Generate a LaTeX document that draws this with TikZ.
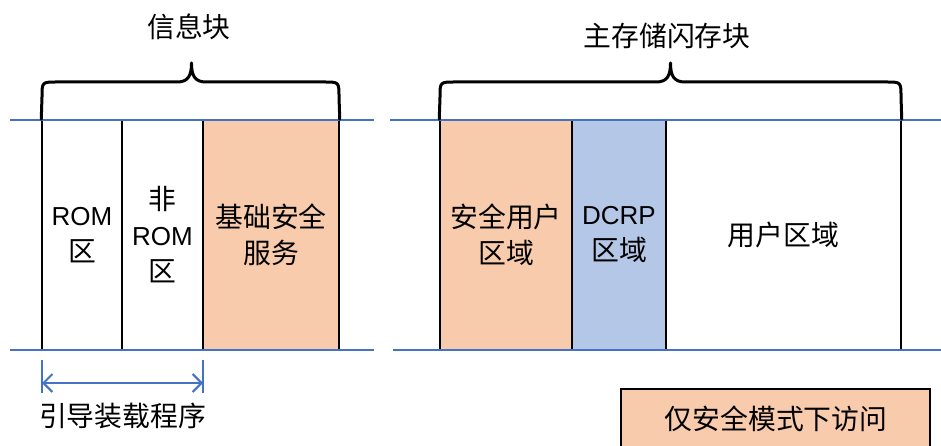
\documentclass[tikz,border=0pt]{standalone}
\usepackage{fontspec}
\setmainfont{Liberation Sans}
\newfontfamily\cjk[Scale=1.07]{Noto Sans CJK SC}
\usetikzlibrary{arrows.meta}
\definecolor{secfill}{HTML}{F8CBAD}
\definecolor{dcrpfill}{HTML}{B4C7E7}
\definecolor{bline}{HTML}{4472C4}
\tikzset{
  memblock/.style={draw=black, line width=1.5pt, minimum height=230pt, inner sep=0pt, align=center, font=\fontsize{26}{36}\selectfont},
  rail/.style={draw=bline, line width=2pt},
  bracepath/.style={draw=black, line width=3pt, line cap=round, line join=round},
  lbl/.style={font=\fontsize{26}{36}\selectfont\cjk, inner sep=0pt},
  dimline/.style={draw=bline, line width=2pt},
}
\begin{document}
\begin{tikzpicture}[x=1pt,y=-1pt]
\useasboundingbox (0,0) rectangle (941,446);
\clip (0,0) rectangle (941,446);
\fill[white] (0,0) rectangle (941,446);
% left memory blocks
\node[memblock, minimum width=80pt] (rom) at (82,235) {ROM\\{\cjk 区}};
\node[memblock, minimum width=81pt] (nrom) at (162.5,235) {{\cjk 非}\\ROM\\{\cjk 区}};
\node[memblock, minimum width=136pt, fill=secfill] (base) at (271,235) {\cjk 基础安全\\\cjk 服务};
% right memory blocks
\node[memblock, minimum width=132pt, fill=secfill] (suser) at (506,235) {\cjk 安全用户\\\cjk 区域};
\node[memblock, minimum width=94pt, fill=dcrpfill] (dcrp) at (619,235) {DCRP\\{\cjk 区域}};
\node[memblock, minimum width=235pt] (user) at (783.5,235) {\cjk 用户区域};
% rails
\coordinate (lt1) at (10,120); \coordinate (lt2) at (374,120);
\coordinate (lb1) at (10,350); \coordinate (lb2) at (374,350);
\coordinate (rt1) at (390,120); \coordinate (rt2) at (941,120);
\coordinate (rb1) at (393,350); \coordinate (rb2) at (941,350);
\draw[rail] (lt1) -- (lt2);
\draw[rail] (lb1) -- (lb2);
\draw[rail] (rt1) -- (rt2);
\draw[rail] (rb1) -- (rb2);
% braces
\draw[bracepath] (rom.north west) -- (42,97) .. controls (42,82) .. (57,82) -- (177,82)
  .. controls (188,82) and (191.5,76) .. (191.5,63) .. controls (191.5,76) and (195,82) .. (206,82)
  -- (324,82) .. controls (339,82) .. (339,97) -- (base.north east);
\draw[bracepath] (suser.north west) -- (440,97) .. controls (440,82) .. (455,82) -- (656,82)
  .. controls (667,82) and (670.5,76) .. (670.5,63) .. controls (670.5,76) and (674,82) .. (685,82)
  -- (886,82) .. controls (901,82) .. (901,97) -- (user.north east);
\node[lbl] (t1) at (189,27) {信息块};
\node[lbl] (t2) at (667,36) {主存储闪存块};
% boot loader dimension
\coordinate (d1a) at (42,360); \coordinate (d1b) at (42,393);
\coordinate (d2a) at (203,360); \coordinate (d2b) at (203,393);
\coordinate (da) at (42,383); \coordinate (db) at (203,383);
\draw[dimline] (d1a) -- (d1b);
\draw[dimline] (d2a) -- (d2b);
\draw[dimline, {Straight Barb[length=9pt,width=18pt]}-{Straight Barb[length=9pt,width=18pt]}] (da) -- (db);
\node[lbl] (boot) at (122.5,416) {引导装载程序};
% legend
\path[draw=black, line width=1.5pt, fill=secfill] (621,389) rectangle (930,480);
\node[lbl] (legend) at (776,419) {仅安全模式下访问};
\end{tikzpicture}
\end{document}
